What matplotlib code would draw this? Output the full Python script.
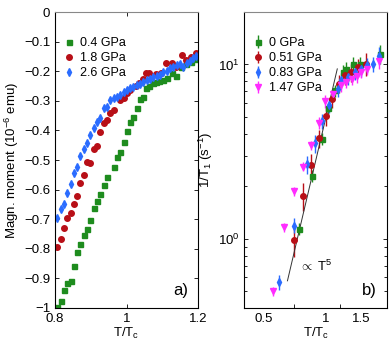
import numpy as np
import matplotlib
matplotlib.use('Agg')
from matplotlib import pyplot as plt
from matplotlib.ticker import FuncFormatter, FixedLocator, NullFormatter

plt.rcParams['font.family'] = ['Liberation Sans', 'DejaVu Sans']
plt.rcParams['mathtext.fontset'] = 'custom'
plt.rcParams['mathtext.rm'] = 'Liberation Sans'
plt.rcParams['mathtext.it'] = 'Liberation Sans'

# ---- panel a) magnetisation vs T/Tc
labels_a = ['0.4 GPa', '1.8 GPa', '2.6 GPa']
t_04 = [0.806, 0.816, 0.825, 0.834, 0.844, 0.853, 0.862, 0.871, 0.881, 0.890,
        0.899, 0.908, 0.918, 0.927, 0.936, 0.945, 0.964, 0.973, 0.982, 0.992,
        1.001, 1.010, 1.019, 1.029, 1.038, 1.047, 1.055, 1.064, 1.073, 1.083,
        1.092, 1.101, 1.112, 1.127, 1.138, 1.152, 1.166, 1.180, 1.194]
m_04 = [-0.998, -0.976, -0.940, -0.914, -0.908, -0.858, -0.812, -0.785, -0.753, -0.733,
        -0.703, -0.663, -0.639, -0.616, -0.584, -0.557, -0.525, -0.489, -0.472, -0.438,
        -0.403, -0.371, -0.354, -0.325, -0.295, -0.286, -0.258, -0.250, -0.241, -0.235,
        -0.232, -0.230, -0.222, -0.205, -0.216, -0.185, -0.176, -0.168, -0.160]
t_18 = [0.806, 0.816, 0.825, 0.834, 0.844, 0.853, 0.862, 0.871, 0.881, 0.890,
        0.899, 0.908, 0.918, 0.927, 0.936, 0.945, 0.955, 0.964, 0.981, 0.992,
        1.001, 1.011, 1.027, 1.036, 1.045, 1.055, 1.064, 1.083, 1.096, 1.110,
        1.127, 1.138, 1.155, 1.166, 1.180, 1.194]
m_18 = [-0.793, -0.767, -0.731, -0.695, -0.680, -0.650, -0.621, -0.579, -0.552, -0.506,
        -0.509, -0.463, -0.452, -0.406, -0.376, -0.365, -0.341, -0.331, -0.297, -0.292,
        -0.275, -0.264, -0.250, -0.239, -0.226, -0.205, -0.207, -0.209, -0.205, -0.171,
        -0.171, -0.185, -0.145, -0.162, -0.153, -0.140]
t_26 = [0.806, 0.816, 0.825, 0.834, 0.844, 0.853, 0.862, 0.871, 0.881, 0.890,
        0.899, 0.908, 0.918, 0.927, 0.936, 0.945, 0.955, 0.964, 0.973, 0.982,
        0.992, 1.001, 1.010, 1.019, 1.029, 1.038, 1.047, 1.057, 1.066, 1.075,
        1.084, 1.094, 1.103, 1.112, 1.121, 1.131, 1.140, 1.149, 1.158, 1.168,
        1.177, 1.186, 1.195]
m_26 = [-0.696, -0.667, -0.647, -0.610, -0.581, -0.545, -0.523, -0.485, -0.463, -0.442,
        -0.417, -0.392, -0.372, -0.358, -0.325, -0.321, -0.297, -0.292, -0.287, -0.280,
        -0.270, -0.264, -0.258, -0.252, -0.247, -0.242, -0.235, -0.230, -0.225, -0.219,
        -0.216, -0.213, -0.203, -0.198, -0.189, -0.185, -0.179, -0.176, -0.185, -0.172,
        -0.165, -0.155, -0.149]

# ---- panel b) 1/T1 vs T/Tc
labels_b = ['0 GPa', '0.51 GPa', '0.83 GPa', '1.47 GPa']
t_0 = [0.741, 0.855, 0.964, 1.03, 1.115, 1.214, 1.261, 1.358, 1.464, 1.852]
r_0 = [1.14, 2.29, 3.73, 5.6, 7.10, 9.04, 9.45, 10.0, 10.0, 11.5]
e_0 = [0.08, 0.08, 0.08, 0.08, 0.08, 0.1, 0.1, 0.1, 0.1, 0.12]
t_051 = [0.701, 0.775, 0.852, 0.924, 1.0, 1.073, 1.157, 1.238, 1.324, 1.437, 1.578]
r_051 = [0.978, 1.76, 2.65, 3.76, 5.05, 6.37, 7.76, 8.65, 9.04, 9.66, 10.1]
e_051 = [0.2, 0.18, 0.15, 0.12, 0.12, 0.12, 0.12, 0.12, 0.12, 0.12, 0.15]
t_083 = [0.593, 0.701, 0.814, 0.884, 0.959, 1.038, 1.148, 1.192, 1.284, 1.384,
         1.492, 1.596, 1.700, 1.832]
r_083 = [0.563, 1.19, 2.67, 3.52, 4.74, 5.83, 7.26, 8.11, 8.46, 9.04,
         9.45, 9.87, 10.1, 11.25]
e_083 = [0.1, 0.1, 0.12, 0.12, 0.1, 0.1, 0.1, 0.1, 0.1, 0.1, 0.1, 0.1, 0.1, 0.12]
t_147 = [0.554, 0.627, 0.701, 0.775, 0.852, 0.925, 0.997, 1.085, 1.192, 1.261,
         1.343, 1.427, 1.492, 1.596, 1.832]
r_147 = [0.50, 1.167, 1.88, 2.59, 3.44, 4.62, 6.15, 6.80, 7.59, 7.92,
         8.28, 8.54, 9.04, 9.45, 10.5]
e_147 = [0.06, 0.06, 0.06, 0.06, 0.06, 0.08, 0.08, 0.08, 0.08, 0.08,
         0.08, 0.08, 0.08, 0.08, 0.1]

# T^5 guide line
fit_t = [0.651, 1.14]
fit_a = 4.9

green = '#1e8c1e'
red = '#b80f17'
blue = '#2a6cff'
mag = '#ff2cff'

def minus_fmt(v, pos):
    v = round(v, 3) + 0.0
    if abs(v) < 1e-9:
        return '0'
    return ('%g' % v).replace('-', '\u2212')

fig = plt.figure(figsize=(3.9, 3.49), dpi=100)
ax1 = fig.add_axes([0.141, 0.1175, 0.367, 0.848])
ax2 = fig.add_axes([0.626, 0.1175, 0.367, 0.848])

# panel a
ax1.plot(t_04, m_04, 's', color=green, ms=3.6, mec=green, label=labels_a[0])
ax1.plot(t_18, m_18, 'o', color=red, ms=4.0, mec=red, label=labels_a[1])
ax1.plot(t_26, m_26, 'd', color=blue, ms=4.2, mec=blue, label=labels_a[2])
ax1.set_xlim(0.8, 1.2)
ax1.set_ylim(-1, 0)
ax1.set_xticks([0.8, 1.0, 1.2])
ax1.set_yticks(np.arange(-1, 0.01, 0.1))
ax1.xaxis.set_major_formatter(FuncFormatter(minus_fmt))
ax1.yaxis.set_major_formatter(FuncFormatter(minus_fmt))
ax1.tick_params(direction='in', top=True, right=True, labelsize=9.5, length=3, width=0.6)
ax1.set_xlabel('T/T$_\\mathrm{c}$', fontsize=9.5, labelpad=1)
ax1.set_ylabel('Magn. moment (10$^{-6}$ emu)', fontsize=9.5, labelpad=2)
ax1.legend(loc='upper left', bbox_to_anchor=(0.0, 0.945), frameon=False, fontsize=9,
           handlelength=0.8, handletextpad=0.5, labelspacing=0.25, borderaxespad=0.3)
ax1.text(0.93, 0.035, 'a)', transform=ax1.transAxes, ha='right', va='bottom', fontsize=12)

# panel b
ekw = dict(ls='none', elinewidth=1.0, capsize=0)
for t, r, e, mk, c, lab, ms in [(t_0, r_0, e_0, 's', green, labels_b[0], 3.6),
                                (t_051, r_051, e_051, 'o', red, labels_b[1], 4.0),
                                (t_083, r_083, e_083, 'd', blue, labels_b[2], 4.2),
                                (t_147, r_147, e_147, 'v', mag, labels_b[3], 4.4)]:
    r = np.array(r)
    ax2.errorbar(t, r, yerr=r * np.array(e), fmt=mk, color=c, mec=c, ms=ms,
                 label=lab, **ekw)
tt = np.linspace(fit_t[0], fit_t[1], 50)
ax2.plot(tt, fit_a * tt ** 5, color='#333333', lw=0.7)
ax2.text(0.74, 0.69, '$\\propto$ T$^5$', fontsize=9.5, ha='left', va='center')

ax2.set_xscale('log')
ax2.set_yscale('log')
ax2.set_xlim(0.4, 2.0)
ax2.set_ylim(0.4, 20)
ax2.xaxis.set_major_locator(FixedLocator([0.5, 1.0, 1.5]))
ax2.xaxis.set_major_formatter(FuncFormatter(minus_fmt))
ax2.xaxis.set_minor_locator(FixedLocator([0.5, 0.7, 1.0, 1.18]))
ax2.xaxis.set_minor_formatter(NullFormatter())
ax2.tick_params(axis='x', which='major', length=0)
ax2.tick_params(axis='x', which='minor', direction='in', length=3, width=0.6, top=False)
ax2.tick_params(axis='y', which='both', direction='in', left=True, right=True, width=0.6)
ax2.tick_params(axis='y', which='major', length=3)
ax2.tick_params(axis='y', which='minor', length=2)
ax2.tick_params(labelsize=9.5)
ax2.set_xlabel('T/T$_\\mathrm{c}$', fontsize=9.5, labelpad=1)
ax2.set_ylabel('1/T$_1$ (s$^{-1}$)', fontsize=9.5, labelpad=2)
ax2.legend(loc='upper left', bbox_to_anchor=(0.0, 0.945), frameon=False, fontsize=9,
           handlelength=0.8, handletextpad=0.5, labelspacing=0.25, borderaxespad=0.3)
ax2.text(0.93, 0.035, 'b)', transform=ax2.transAxes, ha='right', va='bottom', fontsize=12)

for ax in (ax1, ax2):
    for s in ax.spines.values():
        s.set_linewidth(0.8)
    ax.spines['top'].set_color('#888888')

plt.savefig('out.png', dpi=100)
